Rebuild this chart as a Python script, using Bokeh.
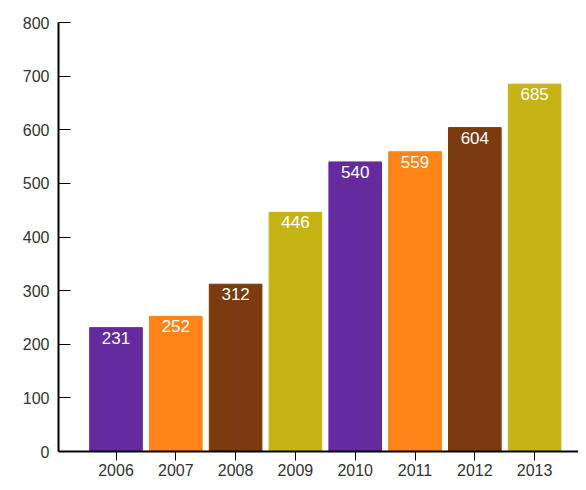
from bokeh.plotting import figure
from bokeh.models import Range1d, ColumnDataSource, FixedTicker, LabelSet
from bokeh.core.properties import value
from bokeh.embed import file_html
from bokeh.resources import INLINE

years = ["2006", "2007", "2008", "2009", "2010", "2011", "2012", "2013"]
values = [231, 252, 312, 446, 540, 559, 604, 685]
colors = ["#642a9e", "#ff8419", "#7a3c0e", "#c6b414",
          "#642a9e", "#ff8419", "#7a3c0e", "#c6b414"]
y_ticks = [0, 100, 200, 300, 400, 500, 600, 700, 800]

xs = list(range(len(years)))
src = ColumnDataSource(dict(x=xs, top=values, color=colors,
                            label=[str(v) for v in values]))

p = figure(width=578, height=482, output_backend="svg", toolbar_location=None,
           x_range=Range1d(-0.962, 7.734), y_range=Range1d(0, 800),
           min_border_left=58, min_border_right=0, min_border_top=22,
           min_border_bottom=31)
p.outline_line_color = None
p.grid.visible = False

p.vbar(x="x", top="top", bottom=0, width=0.88, color="color", source=src)

labels = LabelSet(x="x", y="top", text="label", source=src, y_offset=-4,
                  text_align="center", text_baseline="top", text_color="white",
                  text_font=value("Liberation Sans"), text_font_size="17px")
p.add_layout(labels)

p.xaxis.ticker = FixedTicker(ticks=xs)
p.xaxis.major_label_overrides = {i: y for i, y in enumerate(years)}
p.xaxis.major_tick_in = 0
p.xaxis.major_tick_out = 9
p.xaxis.minor_tick_line_color = None
p.xaxis.axis_line_width = 2
p.xaxis.major_label_text_font_size = "16px"
p.xaxis.major_label_text_font = "Liberation Sans"
p.xaxis.major_label_text_color = "#333333"
p.xaxis.major_label_standoff = 3

p.yaxis.ticker = FixedTicker(ticks=y_ticks)
p.yaxis.major_tick_in = 12
p.yaxis.major_tick_out = 0
p.yaxis.minor_tick_line_color = None
p.yaxis.axis_line_width = 2
p.yaxis.major_label_text_font_size = "16px"
p.yaxis.major_label_text_font = "Liberation Sans"
p.yaxis.major_label_text_color = "#333333"
p.yaxis.major_label_standoff = 9

open("out.html", "w").write(file_html(p, INLINE))
